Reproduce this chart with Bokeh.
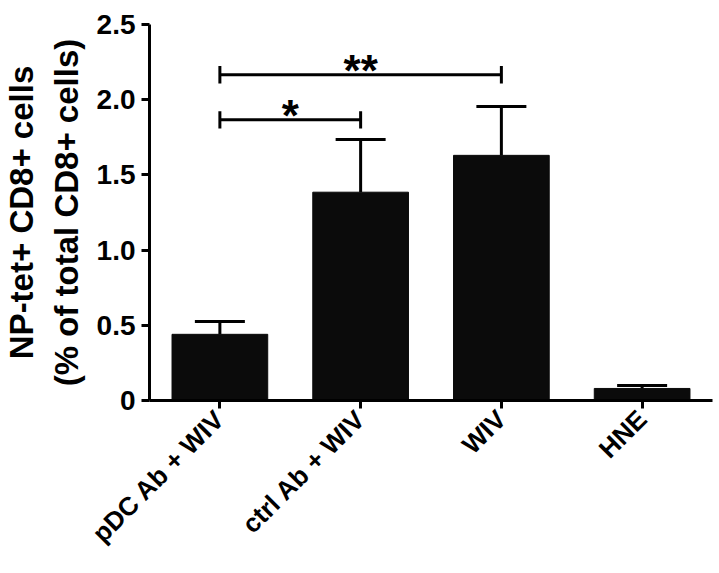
from math import pi
from bokeh.plotting import figure
from bokeh.models import FactorRange, Range1d, FixedTicker, Whisker, ColumnDataSource, TeeHead
from bokeh.core.properties import value
from bokeh.embed import file_html
from bokeh.resources import INLINE

# ---- data ----
groups = ["pDC Ab + WIV", "ctrl Ab + WIV", "WIV", "HNE"]
means = [0.44, 1.385, 1.63, 0.08]
sem = [0.085, 0.35, 0.325, 0.02]
y_ticks = [0, 0.5, 1.0, 1.5, 2.0, 2.5]
y_tick_labels = ["0", "0.5", "1.0", "1.5", "2.0", "2.5"]
brackets_from = ["pDC Ab + WIV", "pDC Ab + WIV"]
brackets_to = ["ctrl Ab + WIV", "WIV"]
brackets_y = [1.866, 2.166]
brackets_text = ["*", "**"]

FONT = "Liberation Sans"

p = figure(x_range=FactorRange(*groups, range_padding=0), y_range=Range1d(0, 2.5),
           width=719, height=573, output_backend="svg", toolbar_location=None,
           min_border_left=148, min_border_top=24, min_border_bottom=173, min_border_right=7)
p.outline_line_color = None
p.grid.grid_line_color = None

upper = [m + s for m, s in zip(means, sem)]
src = ColumnDataSource(dict(x=groups, top=means, upper=upper))
p.vbar(x="x", top="top", width=0.68, source=src, fill_color="#0b0b0b", line_color="#0b0b0b")

w = Whisker(base="x", lower="top", upper="upper", source=src, line_width=3, line_color="black",
            upper_head=TeeHead(size=50, line_width=3, line_color="black"), lower_head=None, level="underlay")
p.add_layout(w)

# significance brackets
tick_h = 0.058
p.segment(x0=brackets_from, y0=brackets_y, x1=brackets_to, y1=brackets_y, line_width=3, line_color="black")
p.segment(x0=brackets_from, y0=[b - tick_h for b in brackets_y], x1=brackets_from,
          y1=[b + tick_h for b in brackets_y], line_width=3, line_color="black")
p.segment(x0=brackets_to, y0=[b - tick_h for b in brackets_y], x1=brackets_to,
          y1=[b + tick_h for b in brackets_y], line_width=3, line_color="black")

# star positions: midpoint between bracket ends (categorical centre indices)
idx = {g: i + 0.5 for i, g in enumerate(groups)}
star_x = [(idx[a] + idx[b]) / 2 for a, b in zip(brackets_from, brackets_to)]
p.text(x=star_x, y=[b + 0.03 for b in brackets_y], text=brackets_text,
       text_font=value(FONT), text_font_style="bold", text_font_size="44px",
       text_align="center", text_baseline="alphabetic", text_color="black")

# axes
for ax in (p.xaxis[0], p.yaxis[0]):
    ax.axis_line_width = 3
    ax.major_tick_line_width = 3
    ax.major_tick_out = 8
    ax.major_tick_in = 0
    ax.minor_tick_line_color = None
    ax.major_label_text_font = FONT
    ax.major_label_text_font_style = "bold"
    ax.major_label_text_color = "black"
    ax.axis_line_color = "black"
    ax.major_tick_line_color = "black"

p.yaxis.ticker = FixedTicker(ticks=y_ticks)
p.yaxis.major_label_overrides = {t: l for t, l in zip(y_ticks, y_tick_labels)}
p.yaxis.major_label_text_font_size = "28px"
p.yaxis.major_label_standoff = 6
p.yaxis.axis_label = "NP-tet+ CD8+ cells\n(% of total CD8+ cells)"
p.yaxis.axis_label_text_font = FONT
p.yaxis.axis_label_text_font_style = "bold"
p.yaxis.axis_label_text_font_size = "33px"
p.yaxis.axis_label_text_color = "black"
p.yaxis.axis_label_standoff = 9

p.xaxis.major_label_orientation = pi / 4
p.xaxis.major_label_text_font_size = "26px"
p.xaxis.major_label_standoff = 6

open("out.html", "w").write(file_html(p, INLINE))
